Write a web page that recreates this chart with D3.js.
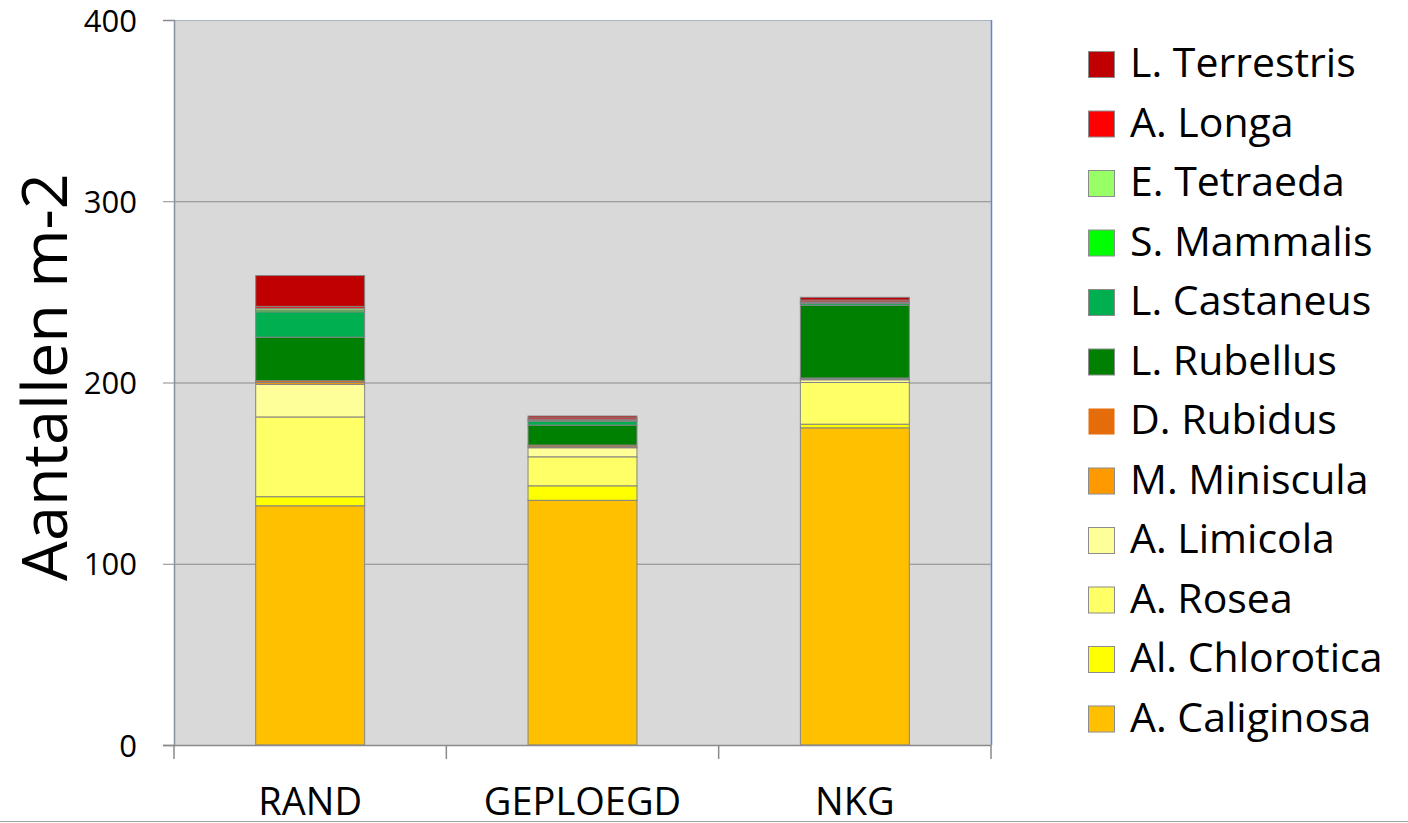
<!DOCTYPE html>
<html>
<head>
<meta charset="utf-8">
<script src="https://cdn.jsdelivr.net/npm/d3@7"></script>
<style>
  html, body { margin: 0; padding: 0; background: #ffffff; }
  svg { display: block; }
  text { font-family: "Open Sans", "Noto Sans", sans-serif; fill: #000; }
</style>
</head>
<body>
<svg id="chart" width="1408" height="823"></svg>
<script>
// Sampling sites on the x axis
const categories = ["RAND", "GEPLOEGD", "NKG"];

// Species, bottom of the stack first
const species = [
  "A. Caliginosa", "Al. Chlorotica", "A. Rosea", "A. Limicola",
  "M. Miniscula", "D. Rubidus", "L. Rubellus", "L. Castaneus",
  "S. Mammalis", "E. Tetraeda", "A. Longa", "L. Terrestris"
];
const speciesColors = [
  "#FFC000", "#FFFF00", "#FFFF66", "#FFFF99",
  "#FF9900", "#E46C0A", "#008000", "#00B050",
  "#00FF00", "#99FF66", "#FF0000", "#C00000"
];

// Counts per m2 for each species at RAND, GEPLOEGD, NKG
const caliginosa = [132, 135, 175];
const chlorotica = [5, 8, 2];
const rosea      = [44, 16, 23];
const limicola   = [18, 5, 1.5];
const miniscula  = [1, 0.5, 0.5];
const rubidus    = [1, 1, 0.5];
const rubellus   = [24, 11, 40];
const castaneus  = [14, 2, 1];
const mammalis   = [1, 0.5, 0.5];
const tetraeda   = [1, 0.5, 0.5];
const longa      = [1, 1, 1];
const terrestris = [17, 1, 1.5];

const yTicks = [0, 100, 200, 300, 400];
const yTitle = "Aantallen m-2";

const seriesValues = [caliginosa, chlorotica, rosea, limicola, miniscula, rubidus,
                      rubellus, castaneus, mammalis, tetraeda, longa, terrestris];

const rows = categories.map((c, i) => {
  const r = { site: c };
  species.forEach((s, k) => { r[s] = seriesValues[k][i]; });
  return r;
});

const svg = d3.select("#chart");
const plot = { left: 174, right: 991, top: 20, bottom: 745 };

const x = d3.scaleBand().domain(categories)
  .range([plot.left, plot.right]).paddingInner(0.6).paddingOuter(0.3);
const y = d3.scaleLinear().domain([0, 400]).range([plot.bottom, plot.top]);
const color = d3.scaleOrdinal().domain(species).range(speciesColors);

// plot background
svg.append("rect")
  .attr("x", plot.left).attr("y", plot.top)
  .attr("width", plot.right - plot.left).attr("height", plot.bottom - plot.top)
  .attr("fill", "#D9D9D9");

// horizontal gridlines
svg.append("g").selectAll("line").data(yTicks.filter(t => t > 0 && t < 400)).join("line")
  .attr("x1", plot.left).attr("x2", plot.right)
  .attr("y1", d => y(d) + 0.5).attr("y2", d => y(d) + 0.5)
  .attr("stroke", "#8A8A8A").attr("stroke-width", 1);

// top frame line and right frame line
svg.append("line")
  .attr("x1", plot.left).attr("x2", plot.right)
  .attr("y1", plot.top + 0.5).attr("y2", plot.top + 0.5)
  .attr("stroke", "#A9B4C6").attr("stroke-width", 1);
svg.append("line")
  .attr("x1", plot.right + 0.5).attr("x2", plot.right + 0.5)
  .attr("y1", plot.top).attr("y2", plot.bottom)
  .attr("stroke", "#5A8BD0").attr("stroke-width", 1.5);

// stacked bars
const stack = d3.stack().keys(species)(rows);
svg.append("g").selectAll("g").data(stack).join("g")
  .attr("fill", d => color(d.key))
  .selectAll("rect").data(d => d).join("rect")
  .attr("x", d => x(d.data.site))
  .attr("width", x.bandwidth())
  .attr("y", d => y(d[1]))
  .attr("height", d => y(d[0]) - y(d[1]))
  .attr("stroke", "#848484").attr("stroke-width", 1);

// y axis
const yAxis = d3.axisLeft(y).tickValues(yTicks).tickSize(11).tickPadding(26)
  .tickFormat(d3.format("d"));
const gy = svg.append("g").attr("transform", `translate(${plot.left},0)`).call(yAxis);
gy.select(".domain").attr("stroke", "#8791A0").attr("stroke-width", 1.5);
gy.selectAll(".tick line").attr("stroke", "#8A8A8A");
gy.selectAll(".tick text").attr("font-size", 31)
  .attr("font-family", "'Open Sans', sans-serif")
  .attr("fill", "#000").attr("dy", "0.36em");

// x axis with ticks between categories
const step = x.step();
const boundaries = d3.range(categories.length + 1).map(i => plot.left + i * step);
svg.append("line")
  .attr("x1", plot.left - 11).attr("x2", plot.right)
  .attr("y1", plot.bottom + 0.5).attr("y2", plot.bottom + 0.5)
  .attr("stroke", "#8A8A8A").attr("stroke-width", 1.5);
svg.append("g").selectAll("line").data(boundaries).join("line")
  .attr("x1", d => d).attr("x2", d => d)
  .attr("y1", plot.bottom).attr("y2", plot.bottom + 14)
  .attr("stroke", "#8A8A8A").attr("stroke-width", 1.5);
svg.append("g").selectAll("text").data(categories).join("text")
  .attr("x", d => x(d) + x.bandwidth() / 2)
  .attr("y", 815)
  .attr("text-anchor", "middle")
  .attr("font-size", 38)
  .text(d => d);

// y axis title
svg.append("text")
  .attr("transform", `translate(67,377) rotate(-90)`)
  .attr("text-anchor", "middle")
  .attr("font-size", 63)
  .text(yTitle);

// legend, top entry is the top of the stack
const legendItems = species.slice().reverse();
const lg = svg.append("g").selectAll("g").data(legendItems).join("g")
  .attr("transform", (d, i) => `translate(1088,${64.5 + i * 59.5})`);
lg.append("rect")
  .attr("x", 0.5).attr("y", -13).attr("width", 26).attr("height", 26)
  .attr("fill", d => color(d))
  .attr("stroke", d => d === "D. Rubidus" ? "none" : "#8C8C8C")
  .attr("stroke-width", 1);
lg.append("text")
  .attr("x", 42).attr("y", 12.5)
  .attr("font-size", 41)
  .text(d => d);

// bottom rule
svg.append("line")
  .attr("x1", 0).attr("x2", 1408)
  .attr("y1", 821.5).attr("y2", 821.5)
  .attr("stroke", "#A0A0A0").attr("stroke-width", 1);
</script>
</body>
</html>
